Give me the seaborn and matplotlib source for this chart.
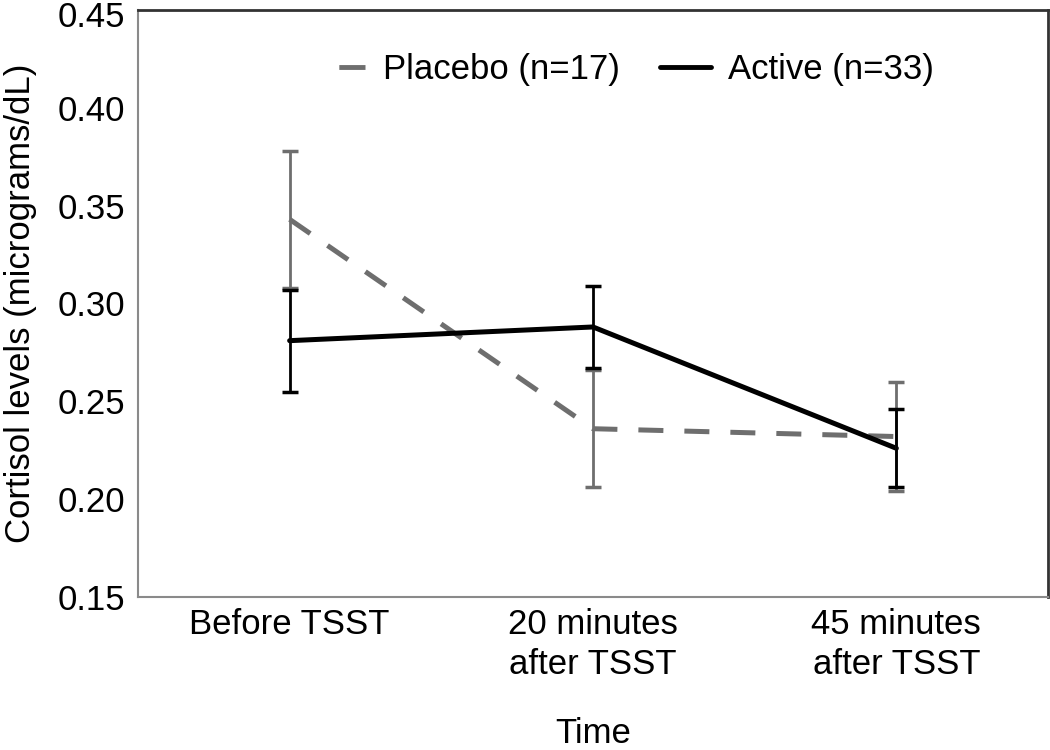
import numpy as np
import pandas as pd
import seaborn as sns
import matplotlib.pyplot as plt
from matplotlib.lines import Line2D
from matplotlib.transforms import ScaledTranslation

# values
time_labels = ["Before TSST", "20 minutes\nafter TSST", "45 minutes\nafter TSST"]
placebo_mean = [0.343, 0.236, 0.232]
placebo_err = [0.035, 0.030, 0.028]
active_mean = [0.281, 0.288, 0.226]
active_err = [0.026, 0.021, 0.020]
groups = ["Placebo (n=17)", "Active (n=33)"]

sns.set_style("white")
plt.rcParams['font.family'] = ['Liberation Sans', 'DejaVu Sans']
plt.rcParams['text.color'] = 'black'
plt.rcParams['axes.labelcolor'] = 'black'
plt.rcParams['xtick.color'] = 'black'
plt.rcParams['ytick.color'] = 'black'

df = pd.DataFrame({
    "time": list(range(3)) * 2,
    "cortisol": placebo_mean + active_mean,
    "err": placebo_err + active_err,
    "group": [groups[0]] * 3 + [groups[1]] * 3,
})

fig = plt.figure(figsize=(10.5, 7.5), dpi=100)
ax = fig.add_axes([0.1314, 0.204, 0.8667, 0.7827])

colors = {groups[0]: "#6e6e6e", groups[1]: "#000000"}
sns.lineplot(data=df, x="time", y="cortisol", hue="group", style="group",
             palette=colors, dashes={groups[0]: (5.0, 4.2), groups[1]: ""},
             linewidth=3.6, ax=ax, legend=False)

for g in groups:
    sub = df[df["group"] == g]
    ax.errorbar(sub["time"], sub["cortisol"], yerr=sub["err"], fmt="none",
                ecolor=colors[g], elinewidth=2, capsize=6, capthick=2.5, zorder=3)

ax.set_xlim(-0.5, 2.5)
ax.set_ylim(0.15, 0.45)
yt = np.arange(0.15, 0.451, 0.05)
ax.set_yticks(yt)
ax.set_yticklabels([f"{v:.2f}" for v in yt])
ax.set_xticks(range(3))
ax.set_xticklabels(time_labels, linespacing=1.25)
ax.tick_params(axis="y", direction="in", length=7, width=1.2, color="#808080",
               labelsize=25, pad=9, labelcolor="black")
ax.tick_params(axis="x", length=0, labelsize=25, pad=8, labelcolor="black")

# top label sits a little lower in the original so it is not cut
top_lbl = ax.get_yticklabels()[-1]
top_lbl.set_transform(top_lbl.get_transform() +
                      ScaledTranslation(0, -3 / 72, fig.dpi_scale_trans))

ax.set_xlabel("Time", fontsize=25, labelpad=26)
ax.set_ylabel("Cortisol levels (micrograms/dL)", fontsize=25, labelpad=15)

for side in ["left", "bottom"]:
    ax.spines[side].set_color("#8a8a8a")
    ax.spines[side].set_linewidth(1.5)
for side in ["top", "right"]:
    ax.spines[side].set_color("#333333")
    ax.spines[side].set_linewidth(2)

handles = [Line2D([], [], color=colors[groups[0]], lw=3.5, ls=(5.5, (5.5, 4.9))),
           Line2D([], [], color=colors[groups[1]], lw=3.5)]
ax.legend(handles, groups, loc="center", bbox_to_anchor=(0.5345, 0.898),
          ncol=2, frameon=False, fontsize=25, handlelength=1.45,
          columnspacing=1.18, handletextpad=0.5)

fig.savefig("out.png", dpi=100)
